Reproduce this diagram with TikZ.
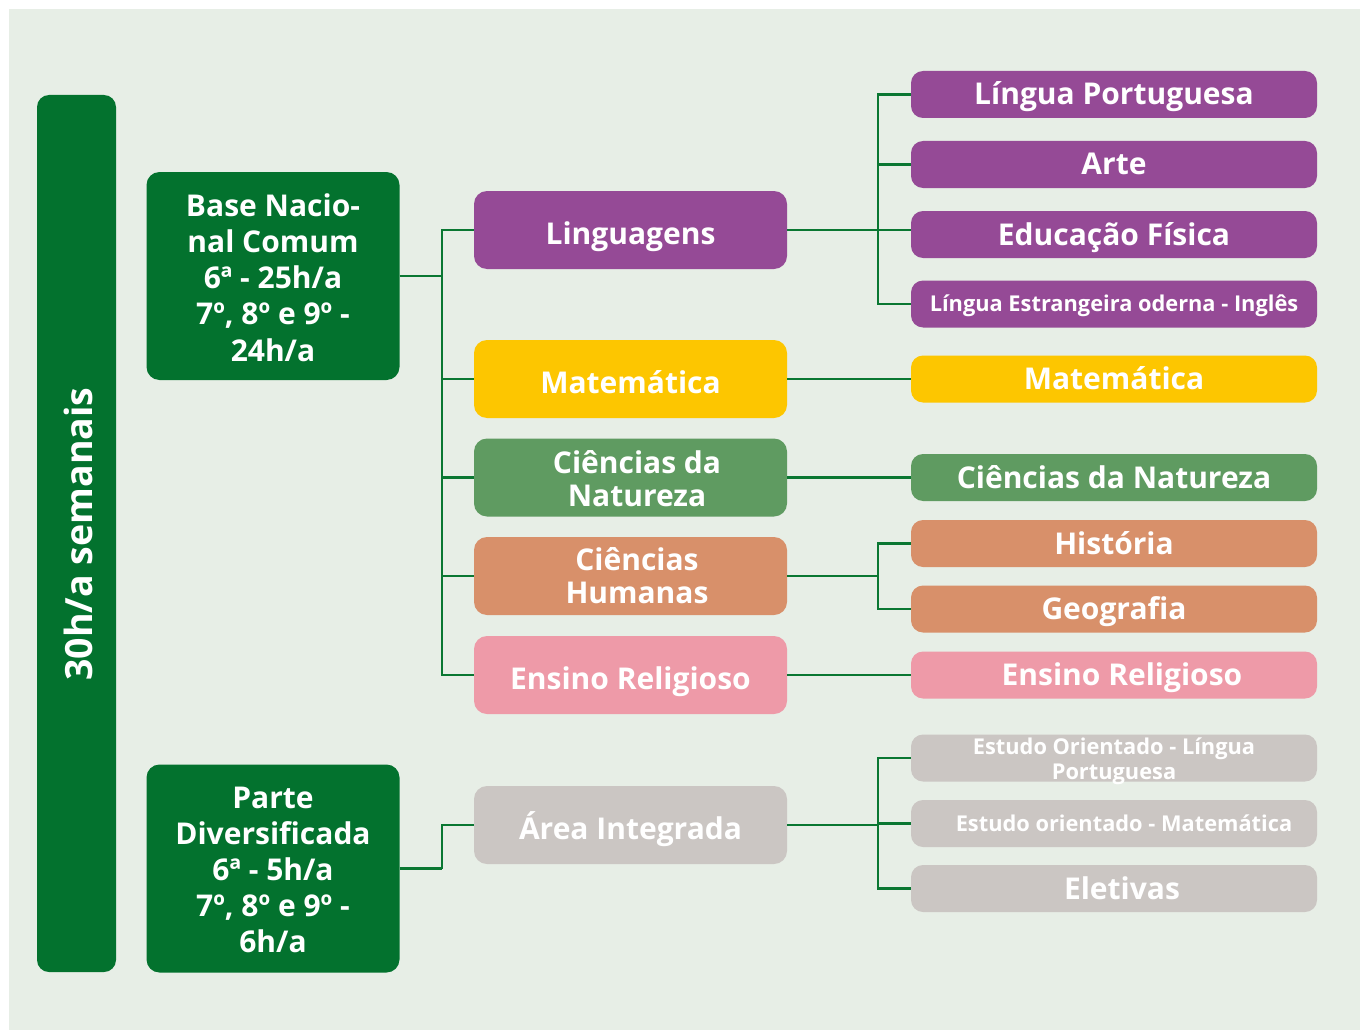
\documentclass[tikz,border=0pt]{standalone}
\usepackage{fontspec}
\setmainfont{Open Sans}
\usetikzlibrary{calc}

\definecolor{pageback}{HTML}{E7EEE6}
\definecolor{deepgreen}{HTML}{03722E}
\definecolor{linkgreen}{HTML}{0A7732}
\definecolor{lingpurple}{HTML}{954A96}
\definecolor{matyellow}{HTML}{FDC600}
\definecolor{natgreen}{HTML}{5F9B61}
\definecolor{humorange}{HTML}{D8906A}
\definecolor{relpink}{HTML}{EE9AA8}
\definecolor{divgray}{HTML}{CBC6C3}

\tikzset{
  box/.style={rounded corners=13pt, inner sep=0pt, align=center, text=white,
    font=\bfseries\fontsize{30}{33}\selectfont},
  stagebox/.style={box, fill=deepgreen, minimum width=253pt, minimum height=208pt,
    font=\bfseries\fontsize{30}{36.2}\selectfont},
  areabox/.style={box, minimum width=313pt, minimum height=78pt},
  subjbox/.style={box, rounded corners=12pt, minimum width=406pt, minimum height=47pt},
  label/.style={text=white, align=center, inner sep=0pt,
    font=\bfseries\fontsize{30}{33}\selectfont},
  smalltext/.style={font=\bfseries\fontsize{21.8}{25}\selectfont},
  % single-line baselines
  midline/.style={text height=30pt, text depth=2pt},
  subjline/.style={text height=25pt, text depth=4pt},
  smallline/.style={text height=18pt, text depth=2.6pt},
  link/.style={draw=linkgreen, line width=2.3pt},
}

\begin{document}
\begin{tikzpicture}[x=1pt, y=-1pt]
  % page and panel
  \fill[white] (0,0) rectangle (1360,1030);
  \fill[pageback] (9,9) rectangle (1360,1030);
  \useasboundingbox (0,0) rectangle (1360,1030);

  % weekly total bar
  \node[box, fill=deepgreen, rounded corners=12pt, minimum width=79pt, minimum height=877pt]
    (total) at (76.5,533.5) {};
  \node[rotate=90, text=white, font=\bfseries\fontsize{37.5}{40}\selectfont]
    (totaltext) at (78,534) {30h/a semanais};

  % curriculum parts
  \node[stagebox] (base) at (273,276) {};
  \node[label, font=\bfseries\fontsize{30}{36.2}\selectfont] (basetext) at (273,277.5)
    {Base Nacio-\\nal Comum\\6ª - 25h/a\\7º, 8º e 9º -\\24h/a};
  \node[stagebox] (parte) at (273,868.5) {};
  \node[label, font=\bfseries\fontsize{30}{36.2}\selectfont] (partetext) at (273,870)
    {Parte\\Diversificada\\6ª - 5h/a\\7º, 8º e 9º -\\6h/a};

  % knowledge areas
  \node[areabox, midline, fill=lingpurple] (ling) at (630.5,230) {Linguagens};
  \node[areabox, midline, fill=matyellow]  (mat)  at (630.5,379) {Matemática};
  \node[areabox, fill=natgreen]   (nat)  at (630.5,477.5) {};
  \node[label] (nattext) at (637,479) {Ciências da\\Natureza};
  \node[areabox, fill=humorange]  (hum)  at (630.5,576) {};
  \node[label] (humtext) at (637,576) {Ciências\\Humanas};
  \node[areabox, midline, fill=relpink]    (rel)  at (630.5,675) {Ensino Religioso};
  \node[areabox, midline, fill=divgray]    (area) at (630.5,825) {Área Integrada};

  % subjects
  \node[subjbox, subjline, fill=lingpurple] (lp)   at (1114,94.5)  {Língua Portuguesa};
  \node[subjbox, subjline, fill=lingpurple] (arte) at (1114,164.5) {Arte};
  \node[subjbox, subjline, fill=lingpurple] (edf)  at (1114,234.5) {Educação Física};
  \node[subjbox, smalltext, smallline, fill=lingpurple] (ing) at (1114,304)
    {Língua Estrangeira oderna - Inglês};
  \node[subjbox, subjline, fill=matyellow]  (mat2) at (1114,379)   {Matemática};
  \node[subjbox, subjline, fill=natgreen]   (nat2) at (1114,477.5) {Ciências da Natureza};
  \node[subjbox, subjline, fill=humorange]  (hist) at (1114,543.5) {História};
  \node[subjbox, subjline, fill=humorange]  (geo)  at (1114,609)   {Geografia};
  \node[subjbox, fill=relpink]    (rel2) at (1114,675)   {};
  \node[label, subjline] (rel2text) at (1122,675) {Ensino Religioso};
  \node[subjbox, fill=divgray]    (eo1)  at (1114,758)   {};
  \node[label, smalltext] (eo1text) at (1114,761) {Estudo Orientado - Língua\\Portuguesa};
  \node[subjbox, fill=divgray]    (eo2)  at (1114,823.5) {};
  \node[label, smalltext, smallline] (eo2text) at (1124,823.5) {Estudo orientado - Matemática};
  \node[subjbox, fill=divgray]    (elet) at (1114,888.5) {};
  \node[label, subjline] (elettext) at (1122,888.5) {Eletivas};

  % connectors: parts to areas
  \draw[link] (base.east) -- ++(42,0) coordinate (jbase);
  \draw[link] (ling.west) -| (jbase);
  \draw[link] (mat.west) -| (jbase);
  \draw[link] (nat.west) -| (jbase);
  \draw[link] (hum.west) -| (jbase);
  \draw[link] (rel.west) -| (jbase);
  \draw[link] (parte.east) -- ++(42,0) coordinate (jparte);
  \draw[link] (area.west) -| (jparte);

  % connectors: areas to subjects
  \draw[link] (ling.east) -- (ling.east -| edf.west);
  \coordinate (jling) at ($(ling.east)+(91,0)$);
  \draw[link] (jling) |- (lp.west);
  \draw[link] (jling) |- (arte.west);
  \draw[link] (jling) |- (ing.west);
  \draw[link] (mat.east) -- (mat2.west);
  \draw[link] (nat.east) -- (nat2.west);
  \draw[link] (hum.east) -- ++(91,0) coordinate (jhum);
  \draw[link] (jhum) |- (hist.west);
  \draw[link] (jhum) |- (geo.west);
  \draw[link] (rel.east) -- (rel2.west);
  \draw[link] (area.east) -- ++(91,0) coordinate (jarea);
  \draw[link] (jarea) |- (eo1.west);
  \draw[link] (jarea) |- (eo2.west);
  \draw[link] (jarea) |- (elet.west);
\end{tikzpicture}
\end{document}
